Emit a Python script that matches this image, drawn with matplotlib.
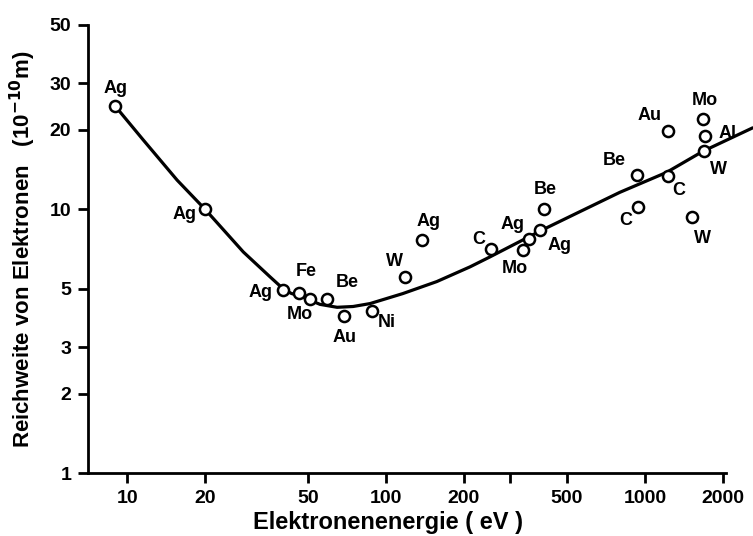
import numpy as np
import matplotlib.pyplot as plt
from matplotlib.ticker import FixedLocator, NullLocator, FixedFormatter

# ============================
# Data
# ============================
# measured points: element, energy (eV), range (1e-10 m), label offset (px)
elements = ["Ag", "Ag", "Ag", "Fe", "Mo", "Be", "Au", "Ni", "W", "Ag",
            "C", "Mo", "Ag", "Ag", "Be", "Be", "C", "Au", "C", "W",
            "Mo", "Al", "W"]
energy = [9.0, 20, 40, 46, 51, 59, 69, 88, 118, 138,
          254, 338, 357, 393, 407, 931, 940, 1228, 1228, 1518,
          1675, 1700, 1690]
reach = [24.6, 10.0, 4.95, 4.8, 4.55, 4.55, 3.93, 4.1, 5.55, 7.65,
         7.07, 7.0, 7.71, 8.34, 10.07, 13.5, 10.2, 19.8, 13.4, 9.33,
         22.0, 19.0, 16.7]
label_dx = [0, -21, -22, 8, -11, 21, 0, 15, -10, 6,
            -12, -8, -17, 20, 1, -23, -12, -19, 11, 11,
            2, 23, 15]
label_dy = [18, -5, -3, 22, -15, 17, -21, -11, 15, 18,
            10, -18, 15, -15, 19, 14, -13, 16, -15, -21,
            19, 2, -19]

# universal curve
curve_e = [9.0, 11.5, 15.6, 20, 28.1, 35.6, 40, 43, 47.8, 55.6,
           64.7, 74.6, 86.7, 116, 157, 211, 252, 400, 561, 800,
           1211, 1675, 2588]
curve_r = [24.6, 18.4, 12.9, 10.0, 6.89, 5.55, 5.0, 4.8, 4.64, 4.36,
           4.25, 4.28, 4.39, 4.79, 5.32, 6.05, 6.6, 8.34, 9.8, 11.6,
           13.8, 16.6, 20.3]

xticks = [10, 20, 50, 100, 200, 300, 500, 1000, 2000]
xticklabels = ["10", "20", "50", "100", "200", "", "500", "1000", "2000"]
yticks = [1, 2, 3, 5, 10, 20, 30, 50]

# ============================
# Plot
# ============================
plt.rcParams['font.family'] = ['Liberation Sans', 'DejaVu Sans']
plt.rcParams['font.weight'] = 'bold'

fig = plt.figure(figsize=(7.53, 5.36), dpi=100)
ax = fig.add_axes([88 / 753, 1 - 473 / 536, (726 - 88) / 753, (473 - 25) / 536])

ax.set_xscale('log')
ax.set_yscale('log')
ax.set_xlim(7.06, 2056)
ax.set_ylim(1, 50)

ax.plot(curve_e, curve_r, color='black', lw=2.3, clip_on=False, zorder=2,
        solid_joinstyle='round')
ax.plot(energy, reach, 'o', ms=8, mfc='white', mec='black', mew=1.8,
        clip_on=False, zorder=3)

for el, e, r, dx, dy in zip(elements, energy, reach, label_dx, label_dy):
    ax.annotate(el, (e, r), xytext=(dx, dy), textcoords='offset pixels',
                ha='center', va='center', fontsize=13, fontweight='bold')

for side in ['top', 'right']:
    ax.spines[side].set_visible(False)
ax.spines['left'].set_linewidth(2)
ax.spines['bottom'].set_linewidth(2)

ax.xaxis.set_major_locator(FixedLocator(xticks))
ax.xaxis.set_major_formatter(FixedFormatter(xticklabels))
ax.xaxis.set_minor_locator(NullLocator())
ax.yaxis.set_major_locator(FixedLocator(yticks))
ax.yaxis.set_major_formatter(FixedFormatter([str(t) for t in yticks]))
ax.yaxis.set_minor_locator(NullLocator())
ax.tick_params(direction='out', length=7, width=2, labelsize=14, pad=5)

ax.set_xlabel("Elektronenenergie ( eV )", fontsize=17, fontweight='bold')
ax.xaxis.set_label_coords(0.47, -0.085)
ax.set_ylabel("Reichweite von Elektronen   (10$^{\\mathbf{-10}}$m)",
              fontsize=16, fontweight='bold')
ax.yaxis.set_label_coords(-0.078, 0.5)

fig.savefig("out.png", dpi=100)
